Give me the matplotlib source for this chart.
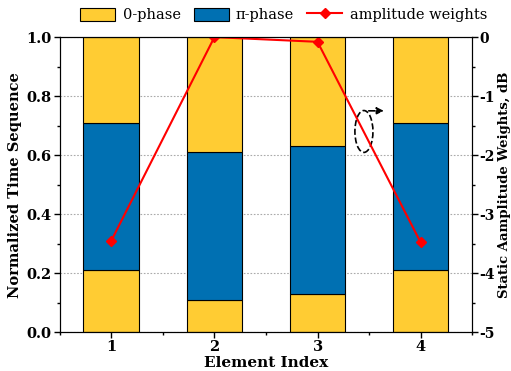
import matplotlib.pyplot as plt
import numpy as np
from matplotlib.patches import Ellipse
from matplotlib.ticker import MultipleLocator

# data
elements = [1, 2, 3, 4]
bottom_zero = [0.21, 0.11, 0.13, 0.21]   # 0-phase (lower part)
pi_phase = [0.50, 0.50, 0.50, 0.50]      # pi-phase
top_zero = [0.29, 0.39, 0.37, 0.29]      # 0-phase (upper part)
amp_db = [-3.45, 0.0, -0.08, -3.48]

plt.rcParams['font.family'] = ['DejaVu Serif']
plt.rcParams['axes.unicode_minus'] = False

yellow = '#FFCC33'
blue = '#0070B2'

fig = plt.figure(figsize=(5.11, 3.71), dpi=100)
ax = fig.add_axes([0.117, 0.105, 0.807, 0.795])

x = np.array(elements)
w = 0.54
b1 = ax.bar(x, bottom_zero, w, color=yellow, edgecolor='black', lw=0.8, label='0-phase')
b2 = ax.bar(x, pi_phase, w, bottom=bottom_zero, color=blue, edgecolor='black', lw=0.8, label='π-phase')
ax.bar(x, top_zero, w, bottom=np.add(bottom_zero, pi_phase), color=yellow, edgecolor='black', lw=0.8)

ax.set_axisbelow(True)
ax.yaxis.grid(True, linestyle=(0, (1.5, 1.5)), color='#aaaaaa', lw=0.8)

ax.set_xlim(0.5, 4.5)
ax.set_ylim(0, 1.0)
ax.set_xticks(elements)
ax.xaxis.set_minor_locator(MultipleLocator(0.5))
ax.yaxis.set_minor_locator(MultipleLocator(0.1))
ax.set_yticks(np.arange(0, 1.01, 0.2))
ax.set_yticklabels([f'{v:.1f}' for v in np.arange(0, 1.01, 0.2)])
ax.tick_params(direction='out', which='both', labelsize=10.5, width=1, pad=2)
ax.tick_params(which='major', length=4)
ax.tick_params(which='minor', length=2.5)
for lab in ax.get_xticklabels() + ax.get_yticklabels():
    lab.set_fontweight('bold')
ax.set_xlabel('Element Index', fontsize=11, fontweight='bold', labelpad=1)
ax.set_ylabel('Normalized Time Sequence', fontsize=10.5, fontweight='bold')
ax.yaxis.set_label_coords(-0.092, 0.5)

ax2 = ax.twinx()
line, = ax2.plot(x, amp_db, color='#FF0000', lw=1.5, marker='D', ms=5, label='amplitude weights')
ax2.set_ylim(-5, 0)
ax2.yaxis.set_major_locator(MultipleLocator(1))
ax2.yaxis.set_minor_locator(MultipleLocator(0.5))
ax2.tick_params(direction='out', which='both', labelsize=10, width=1, pad=1)
ax2.tick_params(which='major', length=4)
ax2.tick_params(which='minor', length=2.5)
for lab in ax2.get_yticklabels():
    lab.set_fontweight('bold')
ax2.set_ylabel('Static Aamplitude Weights, dB', fontsize=9.5, fontweight='bold')
ax2.yaxis.set_label_coords(1.062, 0.5)

# dashed ellipse with arrow pointing to right axis
ax.add_patch(Ellipse((3.45, 0.68), 0.175, 0.142, fill=False, ls='--', lw=1.2, ec='black', zorder=5))
ax.annotate('', xy=(3.67, 0.75), xytext=(3.47, 0.75),
            arrowprops=dict(arrowstyle='-|>', ls='--', color='black', lw=1.2, mutation_scale=10), zorder=5)

fig.legend([b1, b2, line], ['0-phase', 'π-phase', 'amplitude weights'],
           loc='upper center', bbox_to_anchor=(0.555, 1.015), ncol=3, frameon=False,
           fontsize=10.5, handlelength=2.4, handleheight=1.0, columnspacing=0.9, handletextpad=0.5)

fig.savefig('out.png', dpi=100)
